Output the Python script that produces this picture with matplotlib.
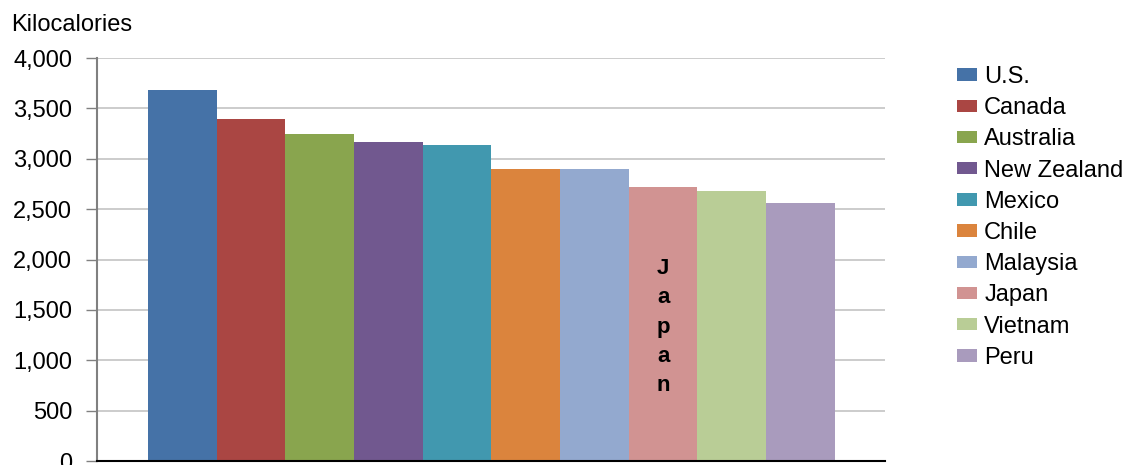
import matplotlib.pyplot as plt

plt.rcParams['font.family'] = ['Liberation Sans', 'DejaVu Sans']

countries = ["U.S.", "Canada", "Australia", "New Zealand", "Mexico",
             "Chile", "Malaysia", "Japan", "Vietnam", "Peru"]
kcal = [3680, 3390, 3250, 3170, 3140, 2900, 2900, 2720, 2680, 2560]
colors = ["#4572a7", "#aa4643", "#89a54e", "#71588f", "#4198af",
          "#db843d", "#93a9cf", "#d19392", "#b9cd96", "#a99bbd"]
yticks = [0, 500, 1000, 1500, 2000, 2500, 3000, 3500, 4000]

fig = plt.figure(figsize=(11.28, 4.65), dpi=100)
ax = fig.add_axes([97 / 1128, 4 / 465, 788 / 1128, 403 / 465])

for i, (name, val, c) in enumerate(zip(countries, kcal, colors)):
    ax.bar(i, val, width=1.0, color=c, label=name, zorder=2)

# stacked letters inside the Japan bar
j = countries.index("Japan")
ax.text(j, 1330, "\n".join("Japan"), ha="center", va="center",
        fontsize=16, fontweight="bold", linespacing=1.52, zorder=3)

ax.set_xlim(-1.24, 10.23)
ax.set_ylim(0, 4000)
ax.set_yticks(yticks)
ax.set_yticklabels([f"{v:,}" for v in yticks], fontsize=17)
ax.set_xticks([])
ax.yaxis.grid(True, color="#c4c4c4", linewidth=1.2, zorder=0)
ax.set_axisbelow(True)
ax.tick_params(axis="y", direction="out", length=8, width=1, color="#808080", pad=10)

for s in ["top", "right"]:
    ax.spines[s].set_visible(False)
ax.spines["left"].set_color("#808080")
ax.spines["left"].set_linewidth(1.5)
ax.spines["bottom"].set_color("black")
ax.spines["bottom"].set_linewidth(1.5)

fig.text(11 / 1128, 1 - 25 / 465, "Kilocalories", fontsize=17, ha="left", va="center")

ax.legend(loc="upper left", bbox_to_anchor=(957 / 1128, 1 - 66 / 465),
          bbox_transform=fig.transFigure, frameon=False, fontsize=17,
          handlelength=0.85, handleheight=0.42, handletextpad=0.3,
          labelspacing=0.39, borderpad=0, borderaxespad=0)

fig.savefig("out.png", dpi=100)
